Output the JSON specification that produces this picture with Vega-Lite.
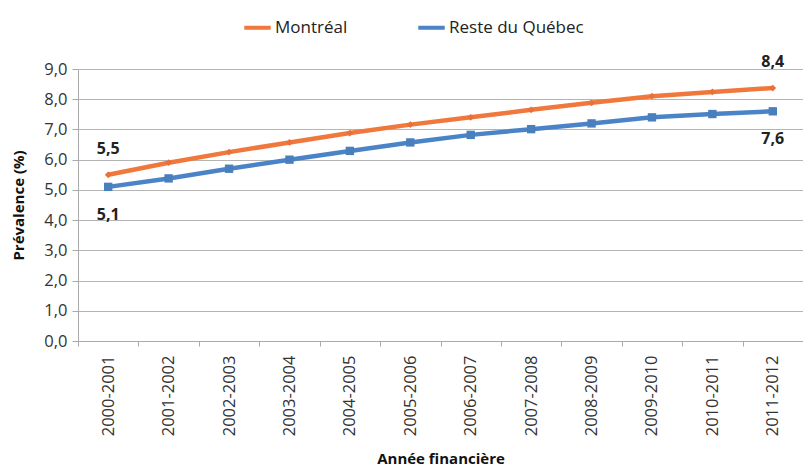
{
  "$schema": "https://vega.github.io/schema/vega-lite/v6.json",
  "width": 725,
  "height": 272,
  "autosize": "none",
  "padding": {"left": 78, "top": 69, "right": 0, "bottom": 127},
  "background": "white",
  "config": {
    "font": "Open Sans",
    "view": {"stroke": null},
    "axis": {"labelFont": "Open Sans", "titleFont": "Open Sans", "labelColor": "#333333", "titleColor": "#111111"}
  },
  "data": {
    "values": [
      {"annee": "2000-2001", "region": "Montréal", "prevalence": 5.5, "label": "5,5"},
      {"annee": "2001-2002", "region": "Montréal", "prevalence": 5.9},
      {"annee": "2002-2003", "region": "Montréal", "prevalence": 6.25},
      {"annee": "2003-2004", "region": "Montréal", "prevalence": 6.57},
      {"annee": "2004-2005", "region": "Montréal", "prevalence": 6.88},
      {"annee": "2005-2006", "region": "Montréal", "prevalence": 7.16},
      {"annee": "2006-2007", "region": "Montréal", "prevalence": 7.4},
      {"annee": "2007-2008", "region": "Montréal", "prevalence": 7.65},
      {"annee": "2008-2009", "region": "Montréal", "prevalence": 7.88},
      {"annee": "2009-2010", "region": "Montréal", "prevalence": 8.1},
      {"annee": "2010-2011", "region": "Montréal", "prevalence": 8.24},
      {"annee": "2011-2012", "region": "Montréal", "prevalence": 8.37, "label": "8,4"},
      {"annee": "2000-2001", "region": "Reste du Québec", "prevalence": 5.1, "label": "5,1"},
      {"annee": "2001-2002", "region": "Reste du Québec", "prevalence": 5.38},
      {"annee": "2002-2003", "region": "Reste du Québec", "prevalence": 5.7},
      {"annee": "2003-2004", "region": "Reste du Québec", "prevalence": 6.0},
      {"annee": "2004-2005", "region": "Reste du Québec", "prevalence": 6.29},
      {"annee": "2005-2006", "region": "Reste du Québec", "prevalence": 6.57},
      {"annee": "2006-2007", "region": "Reste du Québec", "prevalence": 6.82},
      {"annee": "2007-2008", "region": "Reste du Québec", "prevalence": 7.01},
      {"annee": "2008-2009", "region": "Reste du Québec", "prevalence": 7.2},
      {"annee": "2009-2010", "region": "Reste du Québec", "prevalence": 7.4},
      {"annee": "2010-2011", "region": "Reste du Québec", "prevalence": 7.51},
      {"annee": "2011-2012", "region": "Reste du Québec", "prevalence": 7.6, "label": "7,6"}
    ]
  },
  "encoding": {
    "x": {
      "field": "annee", "type": "ordinal", "bandPosition": 0.5,
      "scale": {"type": "band", "paddingInner": 0, "paddingOuter": 0},
      "axis": {
        "title": "Année financière", "titleFontSize": 15, "titleFontWeight": "bold", "titlePadding": 16,
        "labelAngle": -90, "labelFontSize": 16.5, "labelPadding": 9,
        "tickBand": "extent", "domainColor": "#aaaaaa", "tickColor": "#aaaaaa", "tickSize": 5, "grid": false
      }
    },
    "y": {
      "field": "prevalence", "type": "quantitative",
      "scale": {"domain": [0, 9]},
      "axis": {
        "title": "Prévalence (%)", "titleFontSize": 15, "titleFontWeight": "bold", "titlePadding": 17,
        "values": [0, 1, 2, 3, 4, 5, 6, 7, 8, 9],
        "labelExpr": "replace(format(datum.value, '.1f'), '.', ',')",
        "labelFontSize": 16.5, "labelPadding": 5,
        "gridColor": "#b5b5b5", "domainColor": "#aaaaaa", "tickColor": "#aaaaaa", "tickSize": 6
      }
    },
    "color": {
      "field": "region", "type": "nominal",
      "scale": {"domain": ["Montréal", "Reste du Québec"], "range": ["#F0783C", "#4A84C6"]},
      "legend": {
        "title": null, "orient": "none", "legendX": 164, "legendY": -57, "direction": "horizontal",
        "labelFontSize": 17, "labelColor": "#222222", "symbolType": "stroke", "symbolStrokeWidth": 4,
        "symbolSize": 700, "columnPadding": 62, "labelOffset": 2
      }
    }
  },
  "layer": [
    {"mark": {"type": "line", "strokeWidth": 4.5}},
    {
      "transform": [{"filter": "datum.region == 'Montréal'"}],
      "mark": {"type": "point", "filled": true, "size": 45, "opacity": 1, "shape": "diamond"},
      "encoding": {"color": {"value": "#E8703A"}}
    },
    {
      "transform": [{"filter": "datum.region == 'Reste du Québec'"}],
      "mark": {"type": "point", "filled": true, "size": 70, "opacity": 1, "shape": "square"},
      "encoding": {"color": {"value": "#4A7FBE"}}
    },
    {
      "transform": [{"filter": "datum.region == 'Montréal' && datum.label"}],
      "mark": {"type": "text", "dy": -26, "fontSize": 16, "fontWeight": "bold"},
      "encoding": {"text": {"field": "label"}, "color": {"value": "#222222"}}
    },
    {
      "transform": [{"filter": "datum.region == 'Reste du Québec' && datum.label"}],
      "mark": {"type": "text", "dy": 28, "fontSize": 16, "fontWeight": "bold"},
      "encoding": {"text": {"field": "label"}, "color": {"value": "#222222"}}
    }
  ]
}
